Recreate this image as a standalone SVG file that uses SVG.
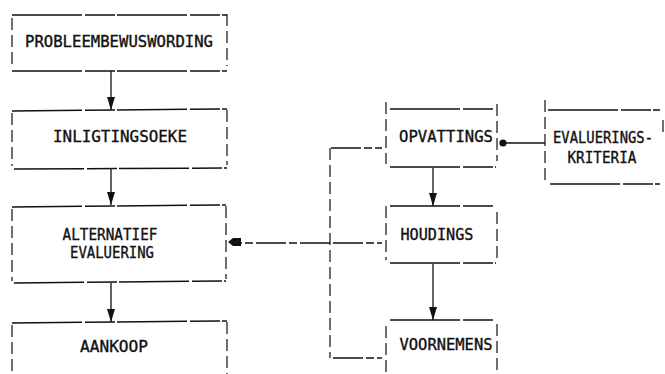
<svg xmlns="http://www.w3.org/2000/svg" width="665" height="374" viewBox="0 0 665 374">
<defs>
<style>
.h{stroke:#111;stroke-width:1.5;fill:none;stroke-dasharray:70 3 30 2}
.v{stroke:#111;stroke-width:1.2;fill:none;stroke-dasharray:12 5}
.c{stroke:#111;stroke-width:1.3;fill:none}
.cd{stroke:#111;stroke-width:1.3;fill:none;stroke-dasharray:30 3 8 3}
text{font-family:"DejaVu Sans Mono","Liberation Mono",monospace;font-size:15.5px;fill:#111;stroke:#111;stroke-width:0.35;text-anchor:middle}
</style>
<marker id="arr" markerUnits="userSpaceOnUse" markerWidth="14" markerHeight="10" refX="13" refY="4" orient="auto">
<path d="M0,0 L13,4 L0,8 z" fill="#111"/>
</marker>
</defs>
<rect width="665" height="374" fill="#fff"/>

<g id="connectors">
<line class="c" x1="111" y1="71" x2="111" y2="110" marker-end="url(#arr)"/>
<line class="cd" x1="111" y1="169" x2="111" y2="205" marker-end="url(#arr)"/>
<line class="cd" x1="111" y1="283" x2="111" y2="322" marker-end="url(#arr)"/>
<line class="c" x1="433" y1="168" x2="433" y2="206" marker-end="url(#arr)"/>
<line class="c" x1="433" y1="264" x2="433" y2="320" marker-end="url(#arr)"/>
<line class="c" x1="545" y1="143" x2="504" y2="143"/>
<circle cx="503" cy="143" r="3.6" fill="#111"/>
<line class="cd" x1="330" y1="243" x2="240" y2="243"/>
<polygon points="228,242 233,238 241,238 241,246 233,246" fill="#111"/>
<path class="v" d="M330,148 V358"/>
<line class="cd" x1="331" y1="148" x2="382" y2="148"/>
<line class="cd" x1="333" y1="243" x2="382" y2="243"/>
<line class="cd" x1="333" y1="358" x2="382" y2="358"/>
</g>

<g id="probleembewuswording">
<line class="h" x1="12" y1="15" x2="227" y2="15"/>
<line class="h" x1="12" y1="71" x2="227" y2="71"/>
<line class="v" x1="12" y1="18" x2="12" y2="68"/>
<line class="v" x1="227" y1="14" x2="227" y2="66"/>
<text x="119" y="47" textLength="188" lengthAdjust="spacingAndGlyphs">PROBLEEMBEWUSWORDING</text>
</g>

<g id="inligtingsoeke">
<line class="h" x1="12" y1="111" x2="227" y2="109"/>
<line class="h" x1="14" y1="169" x2="227" y2="168"/>
<line class="v" x1="12" y1="113" x2="12" y2="166"/>
<line class="v" x1="227" y1="110" x2="227" y2="165"/>
<text x="120" y="142" textLength="134" lengthAdjust="spacingAndGlyphs">INLIGTINGSOEKE</text>
</g>

<g id="alternatief-evaluering">
<line class="h" x1="12" y1="207" x2="226" y2="205"/>
<line class="h" x1="14" y1="283" x2="226" y2="281"/>
<line class="v" x1="12" y1="209" x2="12" y2="281"/>
<line class="v" x1="226" y1="206" x2="226" y2="279"/>
<text x="110" y="240" textLength="95" lengthAdjust="spacingAndGlyphs">ALTERNATIEF</text>
<text x="112" y="258" textLength="84" lengthAdjust="spacingAndGlyphs">EVALUERING</text>
</g>

<g id="aankoop">
<line class="h" x1="12" y1="323" x2="227" y2="321"/>
<line class="v" x1="12" y1="325" x2="12" y2="374"/>
<line class="v" x1="227" y1="322" x2="227" y2="374"/>
<text x="114" y="352" textLength="68" lengthAdjust="spacingAndGlyphs">AANKOOP</text>
</g>

<g id="opvattings">
<line class="h" x1="390" y1="109" x2="493" y2="109"/>
<line class="h" x1="390" y1="167" x2="496" y2="167"/>
<line class="v" x1="386" y1="102" x2="386" y2="164"/>
<line class="v" x1="497" y1="104" x2="497" y2="161"/>
<text x="446" y="142" textLength="94" lengthAdjust="spacingAndGlyphs">OPVATTINGS</text>
</g>

<g id="houdings">
<line class="h" x1="390" y1="206" x2="495" y2="206"/>
<line class="h" x1="390" y1="263" x2="496" y2="263"/>
<line class="v" x1="386" y1="206" x2="386" y2="260"/>
<line class="v" x1="497" y1="212" x2="497" y2="262"/>
<text x="437" y="240" textLength="73" lengthAdjust="spacingAndGlyphs">HOUDINGS</text>
</g>

<g id="voornemens">
<line class="h" x1="390" y1="320" x2="495" y2="320"/>
<line class="v" x1="386" y1="326" x2="386" y2="374"/>
<line class="v" x1="497" y1="324" x2="497" y2="374"/>
<text x="446" y="350" textLength="93" lengthAdjust="spacingAndGlyphs">VOORNEMENS</text>
</g>

<g id="evaluerings-kriteria">
<line class="h" x1="548" y1="110" x2="660" y2="110"/>
<line class="h" x1="550" y1="184" x2="660" y2="184"/>
<line class="v" x1="545" y1="100" x2="545" y2="184"/>
<line class="v" x1="663" y1="120" x2="663" y2="134"/>
<text x="603" y="143" textLength="100" lengthAdjust="spacingAndGlyphs">EVALUERINGS-</text>
<text x="602" y="163" textLength="69" lengthAdjust="spacingAndGlyphs">KRITERIA</text>
</g>
</svg>
